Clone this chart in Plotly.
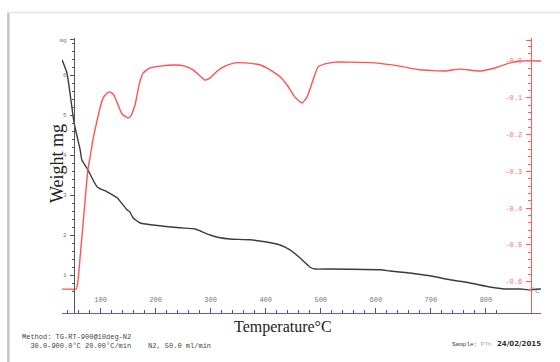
import plotly.graph_objects as go

# ---- data ----
temp_w = [30, 39, 52, 63, 66, 77, 94, 112, 130, 148, 153, 159, 172, 208, 244, 272, 281, 299, 317, 335,
          371, 399, 426, 444, 462, 480, 489, 517, 608, 626, 662, 698, 735, 771, 807, 835, 862, 880, 900]
weight_mg = [6.38, 6.05, 4.80, 4.13, 3.88, 3.63, 3.20, 3.08, 2.93, 2.63, 2.58, 2.43, 2.30, 2.23, 2.18, 2.15,
             2.10, 2.00, 1.93, 1.90, 1.88, 1.83, 1.75, 1.63, 1.43, 1.20, 1.15, 1.15, 1.13, 1.10, 1.05, 0.98,
             0.88, 0.80, 0.70, 0.65, 0.65, 0.63, 0.65]

temp_d = [30, 45, 56, 63, 70, 77, 81, 86, 94, 99, 104, 110, 117, 124, 132, 139, 150, 155, 163, 170, 177,
          190, 208, 235, 253, 268, 281, 290, 299, 312, 326, 344, 362, 390, 408, 426, 440, 453, 466, 475,
          484, 495, 508, 526, 553, 598, 644, 680, 726, 753, 789, 816, 844, 862, 900]
dtg = [-0.620, -0.620, -0.620, -0.531, -0.413, -0.296, -0.262, -0.215, -0.160, -0.128, -0.103, -0.090,
       -0.084, -0.092, -0.120, -0.144, -0.155, -0.149, -0.117, -0.065, -0.033, -0.019, -0.014, -0.011,
       -0.014, -0.024, -0.041, -0.052, -0.046, -0.027, -0.014, -0.005, -0.005, -0.011, -0.024, -0.043,
       -0.068, -0.098, -0.114, -0.098, -0.060, -0.016, -0.008, -0.003, -0.003, -0.005, -0.014, -0.024,
       -0.027, -0.022, -0.027, -0.019, -0.005, 0.0, 0.0]

x_ticks = [100, 200, 300, 400, 500, 600, 700, 800]
w_ticks = [1, 2, 3, 4, 5, 6, 6.88]
w_labels = ["1", "2", "3", "4", "5", "6", "mg"]
d_ticks = [0.0, -0.1, -0.2, -0.3, -0.4, -0.5, -0.6, 0.057]
d_labels = ["-0.0", "-0.1", "-0.2", "-0.3", "-0.4", "-0.5", "-0.6", "mgmin^-1"]

fig = go.Figure()
fig.add_trace(go.Scatter(x=temp_w, y=weight_mg, mode="lines",
                         line=dict(color="#3c3c3c", width=1.4, shape="spline", smoothing=0.5),
                         yaxis="y", showlegend=False))
fig.add_trace(go.Scatter(x=temp_d, y=dtg, mode="lines",
                         line=dict(color="#ff5252", width=1.4, shape="spline", smoothing=0.45),
                         yaxis="y2", showlegend=False))

mono = "Liberation Mono"
serif = "Liberation Serif"

fig.update_layout(
    width=560, height=362,
    margin=dict(l=62, r=19, t=38, b=49),
    paper_bgcolor="white", plot_bgcolor="white",
    xaxis=dict(range=[30, 900], showgrid=False, zeroline=False, showline=True, linecolor="#5a5ae6", linewidth=1.3,
               tickvals=x_ticks, ticks="inside", ticklen=5, tickcolor="#555", tickwidth=1,
               ticklabelposition="inside", ticklabelstandoff=3,
               tickfont=dict(family=mono, size=7, color="#777"),
               minor=dict(dtick=20, ticks="inside", ticklen=3, tickcolor="#555")),
    yaxis=dict(range=[0.05, 6.925], showgrid=False, zeroline=False, showline=True, linecolor="#555", linewidth=1.2,
               anchor="free", position=0.025,
               tickvals=w_ticks, ticktext=w_labels, ticks="outside", ticklen=4, tickcolor="#555",
               ticklabelstandoff=2, tickfont=dict(family=mono, size=6, color="#777"),
               minor=dict(dtick=0.2, ticks="outside", ticklen=2, tickcolor="#555")),
    yaxis2=dict(range=[-0.685, 0.0625], overlaying="y", side="right", anchor="free", position=0.979,
                showgrid=False, zeroline=False, showline=True, linecolor="#ff5a5a", linewidth=1.3,
                tickvals=d_ticks, ticktext=d_labels, ticks="inside", ticklen=5, tickcolor="#ff5a5a",
                ticklabelposition="inside", ticklabelstandoff=2,
                tickfont=dict(family=mono, size=7, color="#ff6a6a"),
                minor=dict(dtick=0.02, ticks="inside", ticklen=3, tickcolor="#ff5a5a")),
    shapes=[
        dict(type="line", xref="paper", yref="paper", x0=-0.112, x1=-0.112, y0=1.093, y1=-0.2,
             line=dict(color="#c4c4c4", width=2.5)),
        dict(type="line", xref="paper", yref="paper", x0=-0.112, x1=1.05, y0=1.093, y1=1.093,
             line=dict(color="#e4e4e4", width=1.5)),
    ],
    annotations=[
        dict(text="Weight mg", xref="paper", yref="paper", x=-0.0355, y=0.545, textangle=-90, showarrow=False,
             font=dict(family=serif, size=18, color="#222")),
        dict(text="Temperature°C", xref="paper", yref="paper", x=0.461, y=-0.091, showarrow=False,
             font=dict(family=serif, size=16, color="#222")),
        dict(text="°C", xref="paper", yref="paper", x=1.0, y=0.06, showarrow=False,
             font=dict(family=mono, size=7, color="#777")),
        dict(text="Method: TG-RT-900@10deg-N2", xref="paper", yref="paper", x=-0.0877, y=-0.109,
             xanchor="left", showarrow=False, font=dict(family=mono, size=7, color="#444")),
        dict(text="  30.0-900.0°C 20.00°C/min    N2, 50.0 ml/min", xref="paper", yref="paper", x=-0.0877, y=-0.1418,
             xanchor="left", showarrow=False, font=dict(family=mono, size=7, color="#444")),
        dict(text="Sample: <span style='color:#aaa'>PTh</span>", xref="paper", yref="paper", x=0.81, y=-0.1345,
             xanchor="left", showarrow=False, font=dict(family=mono, size=6, color="#444")),
        dict(text="<b>24/02/2015</b>", xref="paper", yref="paper", x=0.904, y=-0.1345,
             xanchor="left", showarrow=False, font=dict(family="DejaVu Sans", size=7, color="#333")),
    ],
)

fig.write_html("out.html")
